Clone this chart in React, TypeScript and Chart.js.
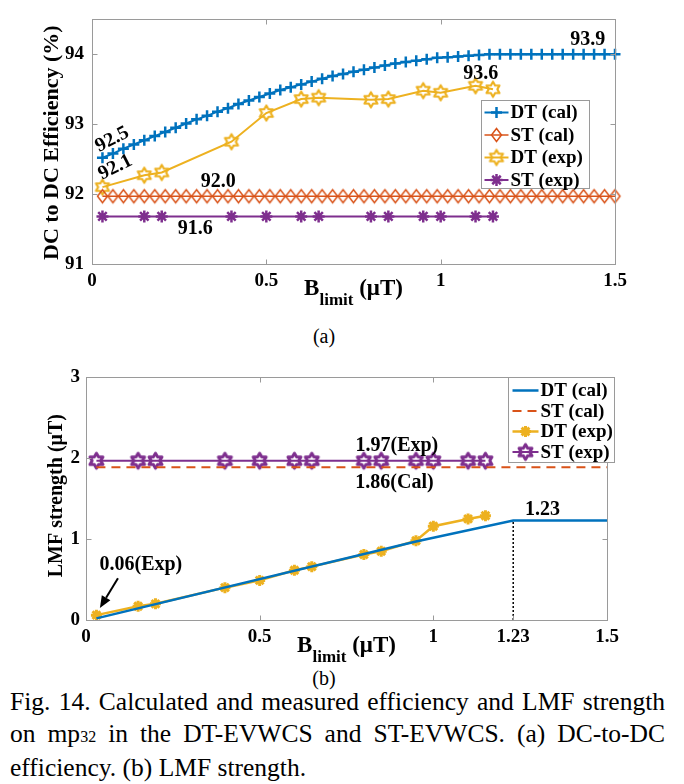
import React, { useEffect, useRef } from 'react';
import { Chart, registerables } from 'chart.js';

Chart.register(...registerables);

const FONT = '"Liberation Serif", "Times New Roman", serif';
const BLUE = '#0072BD';
const ORANGE = '#D95319';
const YELLOW = '#EDB120';
const PURPLE = '#7E2F8E';
const AXIS = '#9a9a9a';

// ---------------- (a) DC-to-DC efficiency ----------------
const calB = [0.03, 0.06, 0.09, 0.12, 0.15, 0.18, 0.21, 0.24, 0.27, 0.3, 0.33, 0.36, 0.39, 0.42, 0.45, 0.48, 0.51, 0.54, 0.57, 0.6, 0.63, 0.66, 0.69, 0.72, 0.75, 0.78, 0.81, 0.84, 0.87, 0.9, 0.93, 0.96, 0.99, 1.02, 1.05, 1.08, 1.11, 1.14, 1.17, 1.2, 1.23, 1.26, 1.29, 1.32, 1.35, 1.38, 1.41, 1.44, 1.47, 1.5];
const dtCalEff = [92.52, 92.58, 92.65, 92.71, 92.77, 92.83, 92.89, 92.95, 93.01, 93.07, 93.12, 93.18, 93.23, 93.29, 93.34, 93.39, 93.44, 93.49, 93.53, 93.57, 93.61, 93.65, 93.69, 93.72, 93.75, 93.78, 93.81, 93.84, 93.87, 93.89, 93.91, 93.93, 93.95, 93.96, 93.97, 93.98, 93.99, 94.0, 94.0, 94.0, 94.0, 94.0, 94.0, 94.0, 94.0, 94.0, 94.0, 94.0, 94.0, 94.0];
const stCalEff = [91.97, 91.97, 91.97, 91.97, 91.97, 91.97, 91.97, 91.97, 91.97, 91.97, 91.97, 91.97, 91.97, 91.97, 91.97, 91.97, 91.97, 91.97, 91.97, 91.97, 91.97, 91.97, 91.97, 91.97, 91.97, 91.97, 91.97, 91.97, 91.97, 91.97, 91.97, 91.97, 91.97, 91.97, 91.97, 91.97, 91.97, 91.97, 91.97, 91.97, 91.97, 91.97, 91.97, 91.97, 91.97, 91.97, 91.97, 91.97, 91.97, 91.97];
const expB = [0.03, 0.15, 0.2, 0.4, 0.5, 0.6, 0.65, 0.8, 0.85, 0.95, 1.0, 1.1, 1.15];
const dtExpEff = [92.1, 92.27, 92.31, 92.75, 93.16, 93.36, 93.38, 93.35, 93.36, 93.48, 93.45, 93.55, 93.5];
const stExpEff = [91.68, 91.68, 91.68, 91.68, 91.68, 91.68, 91.68, 91.68, 91.68, 91.68, 91.68, 91.68, 91.68];
const effTicks = [91, 92, 93, 94];
const bTicksA = [0, 0.5, 1, 1.5];

// ---------------- (b) LMF strength ----------------
const dtCalLmfB = [0.03, 0.95, 1.23, 1.5];
const dtCalLmf = [0.02, 0.97, 1.23, 1.23];
const stCalLmfB = [0.03, 1.5];
const stCalLmf = [1.89, 1.89];
const dtExpLmf = [0.06, 0.17, 0.2, 0.4, 0.49, 0.615, 0.66, 0.81, 0.85, 0.98, 1.16, 1.25, 1.29];
const stExpLmf = [1.97, 1.97, 1.97, 1.97, 1.97, 1.97, 1.97, 1.97, 1.97, 1.97, 1.97, 1.97, 1.97];
const limitB = [1.23, 1.23];
const limitLmf = [0, 1.23];
const lmfTicks = [0, 1, 2, 3];
const bTicksB = [0, 0.5, 1, 1.23, 1.5];

type Ann = { text: string; x: number; y: number; angle?: number };
const annsA: Ann[] = [
  { text: '92.5', x: 0.058, y: 92.78, angle: -27 },
  { text: '92.1', x: 0.067, y: 92.38, angle: -27 },
  { text: '92.0', x: 0.362, y: 92.17 },
  { text: '91.6', x: 0.296, y: 91.5 },
  { text: '93.9', x: 1.422, y: 94.21 },
  { text: '93.6', x: 1.115, y: 93.72 },
];
const annsB: Ann[] = [
  { text: '0.06(Exp)', x: 0.158, y: 0.683 },
  { text: '1.97(Exp)', x: 0.895, y: 2.152 },
  { text: '1.86(Cal)', x: 0.888, y: 1.691 },
  { text: '1.23', x: 1.314, y: 1.365 },
];
const arrowB = { x0: 0.092, y0: 0.517, x1: 0.04, y1: 0.148 };

const pts = (xs: number[], ys: number[]) => xs.map((x, i) => ({ x, y: ys[i] }));

function makeHexagram(color: string, r: number, lw: number) {
  const s = Math.ceil(2 * r + 2 * lw + 2);
  const c = document.createElement('canvas');
  c.width = s;
  c.height = s;
  const g = c.getContext('2d')!;
  const cx = s / 2, cy = s / 2, ri = r / Math.sqrt(3);
  g.beginPath();
  for (let i = 0; i < 12; i++) {
    const ang = -Math.PI / 2 + (i * Math.PI) / 6;
    const rr = i % 2 === 0 ? r : ri;
    const px = cx + rr * Math.cos(ang), py = cy + rr * Math.sin(ang);
    if (i === 0) g.moveTo(px, py);
    else g.lineTo(px, py);
  }
  g.closePath();
  g.strokeStyle = color;
  g.lineWidth = lw;
  g.lineJoin = 'round';
  g.stroke();
  return c;
}

function makeDiamond(color: string, w: number, h: number, lw: number) {
  const cw = Math.ceil(w + 2 * lw + 2), ch = Math.ceil(h + 2 * lw + 2);
  const c = document.createElement('canvas');
  c.width = cw;
  c.height = ch;
  const g = c.getContext('2d')!;
  const cx = cw / 2, cy = ch / 2;
  g.beginPath();
  g.moveTo(cx, cy - h / 2);
  g.lineTo(cx + w / 2, cy);
  g.lineTo(cx, cy + h / 2);
  g.lineTo(cx - w / 2, cy);
  g.closePath();
  g.strokeStyle = color;
  g.lineWidth = lw;
  g.stroke();
  return c;
}

type MarkFn = (ctx: CanvasRenderingContext2D, x: number, y: number) => void;
const plusMark = (c: string, r: number, lw: number): MarkFn => (ctx, x, y) => {
  ctx.strokeStyle = c;
  ctx.lineWidth = lw;
  ctx.setLineDash([]);
  ctx.beginPath();
  ctx.moveTo(x - r, y); ctx.lineTo(x + r, y);
  ctx.moveTo(x, y - r); ctx.lineTo(x, y + r);
  ctx.stroke();
};
const starMark = (c: string, r: number, lw: number): MarkFn => (ctx, x, y) => {
  ctx.strokeStyle = c;
  ctx.lineWidth = lw;
  ctx.setLineDash([]);
  ctx.beginPath();
  for (let k = 0; k < 4; k++) {
    const a = (k * Math.PI) / 4;
    ctx.moveTo(x - r * Math.cos(a), y - r * Math.sin(a));
    ctx.lineTo(x + r * Math.cos(a), y + r * Math.sin(a));
  }
  ctx.stroke();
};
const imgMark = (img: HTMLCanvasElement): MarkFn => (ctx, x, y) => {
  ctx.drawImage(img, x - img.width / 2, y - img.height / 2);
};

type LegendItem = { label: string; color: string; lw: number; dash?: number[]; mark?: MarkFn };
type Deco = {
  yTitle: string; yTitleX: number; yTitleSize: number; yTitleDy: number;
  xTitleDy: number; subDy: number;
  ticksX: number[]; ticksY: number[];
  anns: Ann[];
  arrow?: { x0: number; y0: number; x1: number; y1: number };
  legend: { dx: number; dy: number; w: number; h: number; row0: number; gap: number; l0: number; l1: number; tx: number; items: LegendItem[] };
};

const decoPlugin = (d: Deco) => ({
  id: 'deco',
  afterDraw(chart: any) {
    const { ctx, chartArea: a, scales } = chart;
    const xs = scales.x, ys = scales.y;
    ctx.save();
    // axes box + inward ticks
    ctx.strokeStyle = AXIS;
    ctx.lineWidth = 1;
    ctx.setLineDash([]);
    const L = Math.round(a.left) + 0.5, R = Math.round(a.right) + 0.5, T = Math.round(a.top) + 0.5, B = Math.round(a.bottom) + 0.5;
    ctx.strokeRect(L, T, R - L, B - T);
    ctx.beginPath();
    d.ticksX.forEach((v) => {
      const px = Math.round(xs.getPixelForValue(v)) + 0.5;
      ctx.moveTo(px, B); ctx.lineTo(px, B - 5);
      ctx.moveTo(px, T); ctx.lineTo(px, T + 5);
    });
    d.ticksY.forEach((v) => {
      const py = Math.round(ys.getPixelForValue(v)) + 0.5;
      ctx.moveTo(L, py); ctx.lineTo(L + 5, py);
      ctx.moveTo(R, py); ctx.lineTo(R - 5, py);
    });
    ctx.stroke();

    ctx.fillStyle = '#000';
    // y title
    ctx.save();
    ctx.translate(d.yTitleX, (a.top + a.bottom) / 2 + d.yTitleDy);
    ctx.rotate(-Math.PI / 2);
    ctx.font = `bold ${d.yTitleSize}px ${FONT}`;
    ctx.textAlign = 'center';
    ctx.textBaseline = 'middle';
    ctx.fillText(d.yTitle, 0, 0);
    ctx.restore();

    // x title  B_limit (μT)
    const big = `bold 23px ${FONT}`, small = `bold 17px ${FONT}`;
    ctx.font = big;
    const wB = ctx.measureText('B').width;
    const wU = ctx.measureText(' (μT)').width;
    ctx.font = small;
    const wL = ctx.measureText('limit').width;
    let x = (a.left + a.right) / 2 - (wB + wL + wU) / 2;
    const base = a.bottom + d.xTitleDy;
    ctx.textAlign = 'left';
    ctx.textBaseline = 'alphabetic';
    ctx.font = big;
    ctx.fillText('B', x, base);
    x += wB;
    ctx.font = small;
    ctx.fillText('limit', x, base + d.subDy);
    x += wL;
    ctx.font = big;
    ctx.fillText(' (μT)', x, base);

    // annotations
    ctx.font = `bold 20px ${FONT}`;
    ctx.textAlign = 'center';
    ctx.textBaseline = 'middle';
    d.anns.forEach((n) => {
      const px = xs.getPixelForValue(n.x), py = ys.getPixelForValue(n.y);
      ctx.save();
      ctx.translate(px, py);
      if (n.angle) ctx.rotate((n.angle * Math.PI) / 180);
      ctx.fillText(n.text, 0, 0);
      ctx.restore();
    });

    if (d.arrow) {
      const x0 = xs.getPixelForValue(d.arrow.x0), y0 = ys.getPixelForValue(d.arrow.y0);
      const x1 = xs.getPixelForValue(d.arrow.x1), y1 = ys.getPixelForValue(d.arrow.y1);
      const ang = Math.atan2(y1 - y0, x1 - x0);
      const hl = 12, hw = 5;
      const bx = x1 - hl * Math.cos(ang), by = y1 - hl * Math.sin(ang);
      ctx.strokeStyle = '#000';
      ctx.lineWidth = 2;
      ctx.beginPath();
      ctx.moveTo(x0, y0); ctx.lineTo(bx, by);
      ctx.stroke();
      ctx.beginPath();
      ctx.moveTo(x1, y1);
      ctx.lineTo(bx + hw * Math.sin(ang), by - hw * Math.cos(ang));
      ctx.lineTo(bx - hw * Math.sin(ang), by + hw * Math.cos(ang));
      ctx.closePath();
      ctx.fillStyle = '#000';
      ctx.fill();
    }

    // legend
    const lg = d.legend;
    const bl = Math.round(a.right + lg.dx) + 0.5, bt = Math.round(a.top + lg.dy) + 0.5;
    ctx.fillStyle = '#fff';
    ctx.fillRect(bl, bt, lg.w, lg.h);
    ctx.strokeStyle = AXIS;
    ctx.lineWidth = 1;
    ctx.setLineDash([]);
    ctx.strokeRect(bl, bt, lg.w, lg.h);
    ctx.font = `bold 19px ${FONT}`;
    ctx.textAlign = 'left';
    ctx.textBaseline = 'middle';
    lg.items.forEach((it, i) => {
      const ry = bt + lg.row0 + i * lg.gap;
      ctx.strokeStyle = it.color;
      ctx.lineWidth = it.lw;
      ctx.setLineDash(it.dash || []);
      ctx.beginPath();
      ctx.moveTo(bl + lg.l0, ry); ctx.lineTo(bl + lg.l1, ry);
      ctx.stroke();
      ctx.setLineDash([]);
      if (it.mark) it.mark(ctx, bl + (lg.l0 + lg.l1) / 2, ry);
      ctx.fillStyle = '#000';
      ctx.fillText(it.label, bl + lg.tx, ry + 1);
    });
    ctx.restore();
  },
});

const tickFont = { family: FONT, size: 19, weight: 'bold' as const };

function scalesFor(W: number, H: number, box: { l: number; b: number }, xMax: number, yMin: number, yMax: number, xt: number[], yt: number[], yPad: number) {
  return {
    x: {
      type: 'linear', min: 0, max: xMax,
      afterBuildTicks: (s: any) => { s.ticks = xt.map((v) => ({ value: v })); },
      afterFit: (s: any) => { s.height = H - box.b; },
      ticks: { font: tickFont, color: '#000', padding: 6, maxRotation: 0, autoSkip: false, callback: (v: any) => String(v) },
      grid: { display: false, drawTicks: false },
      border: { display: false },
    },
    y: {
      type: 'linear', min: yMin, max: yMax,
      afterBuildTicks: (s: any) => { s.ticks = yt.map((v) => ({ value: v })); },
      afterFit: (s: any) => { s.width = box.l; },
      ticks: { font: tickFont, color: '#000', padding: yPad, autoSkip: false, callback: (v: any) => String(v) },
      grid: { display: false, drawTicks: false },
      border: { display: false },
    },
  };
}

export default function App() {
  const refA = useRef<HTMLCanvasElement>(null);
  const refB = useRef<HTMLCanvasElement>(null);

  useEffect(() => {
    const hexY = makeHexagram(YELLOW, 7.5, 2.2);
    const hexP = makeHexagram(PURPLE, 7.5, 3);
    const dia = makeDiamond(ORANGE, 10, 13, 1.5);

    const WA = 684, HA = 320;
    const chartA = new Chart(refA.current!, {
      type: 'scatter',
      data: {
        datasets: [
          { label: 'ST (cal)', data: pts(calB, stCalEff), showLine: true, borderColor: ORANGE, borderWidth: 1.5, pointStyle: dia as any, pointRadius: 6, clip: false } as any,
          { label: 'ST (exp)', data: pts(expB, stExpEff), showLine: true, borderColor: PURPLE, borderWidth: 2, pointStyle: 'star', pointRadius: 6, pointBorderWidth: 2.5, pointBorderColor: PURPLE, clip: false },
          { label: 'DT (exp)', data: pts(expB, dtExpEff), showLine: true, borderColor: YELLOW, borderWidth: 2, pointStyle: hexY as any, pointRadius: 7, clip: false } as any,
          { label: 'DT (cal)', data: pts(calB, dtCalEff), showLine: true, borderColor: BLUE, borderWidth: 2, pointStyle: 'cross', pointRadius: 5.5, pointBorderWidth: 2.5, pointBorderColor: BLUE, clip: false },
        ],
      },
      options: {
        animation: false,
        responsive: false,
        events: [],
        layout: { padding: { left: 0, top: 10, right: WA - 615, bottom: 0 } },
        plugins: { legend: { display: false }, tooltip: { enabled: false } },
        scales: scalesFor(WA, HA, { l: 92, b: 264 }, 1.5, 91, 94.5, bTicksA, effTicks, 8) as any,
      },
      plugins: [
        decoPlugin({
          yTitle: 'DC to DC Efficiency (%)', yTitleX: 52, yTitleSize: 22, yTitleDy: 1,
          xTitleDy: 31, subDy: 10,
          ticksX: bTicksA, ticksY: effTicks,
          anns: annsA,
          legend: {
            dx: -134, dy: 81, w: 108, h: 88, row0: 12, gap: 22.5, l0: 3, l1: 27, tx: 29,
            items: [
              { label: 'DT (cal)', color: BLUE, lw: 2, mark: plusMark(BLUE, 5.5, 2.5) },
              { label: 'ST (cal)', color: ORANGE, lw: 1.5, mark: imgMark(dia) },
              { label: 'DT (exp)', color: YELLOW, lw: 2, mark: imgMark(hexY) },
              { label: 'ST (exp)', color: PURPLE, lw: 2, mark: starMark(PURPLE, 6, 2.5) },
            ],
          },
        }),
      ],
    });

    const WB = 684, HB = 314;
    const chartB = new Chart(refB.current!, {
      type: 'scatter',
      data: {
        datasets: [
          { label: 'limit', data: pts(limitB, limitLmf), showLine: true, borderColor: '#000', borderWidth: 1.5, borderDash: [2, 2], pointRadius: 0 },
          { label: 'ST (cal)', data: pts(stCalLmfB, stCalLmf), showLine: true, borderColor: ORANGE, borderWidth: 2, borderDash: [9, 6], pointRadius: 0 },
          { label: 'ST (exp)', data: pts(expB, stExpLmf), showLine: true, borderColor: PURPLE, borderWidth: 2, pointStyle: hexP as any, pointRadius: 7, clip: false } as any,
          { label: 'DT (cal)', data: pts(dtCalLmfB, dtCalLmf), showLine: true, borderColor: BLUE, borderWidth: 2.5, pointRadius: 0 },
          { label: 'DT (exp)', data: pts(expB, dtExpLmf), showLine: true, borderColor: YELLOW, borderWidth: 2.5, pointStyle: 'star', pointRadius: 5.5, pointBorderWidth: 3, pointBorderColor: YELLOW, clip: false },
        ],
      },
      options: {
        animation: false,
        responsive: false,
        events: [],
        layout: { padding: { left: 0, top: 16, right: WB - 607, bottom: 0 } },
        plugins: { legend: { display: false }, tooltip: { enabled: false } },
        scales: scalesFor(WB, HB, { l: 86, b: 260 }, 1.5, 0, 3, bTicksB, lmfTicks, 6) as any,
      },
      plugins: [
        decoPlugin({
          yTitle: 'LMF strength (μT)', yTitleX: 57, yTitleSize: 20, yTitleDy: -3,
          xTitleDy: 32, subDy: 10,
          ticksX: bTicksB, ticksY: lmfTicks,
          anns: annsB,
          arrow: arrowB,
          legend: {
            dx: -99, dy: 0, w: 106, h: 85, row0: 13, gap: 20.5, l0: 4, l1: 30, tx: 32,
            items: [
              { label: 'DT (cal)', color: BLUE, lw: 2.5 },
              { label: 'ST (cal)', color: ORANGE, lw: 2, dash: [9, 6] },
              { label: 'DT (exp)', color: YELLOW, lw: 2.5, mark: starMark(YELLOW, 5.5, 3) },
              { label: 'ST (exp)', color: PURPLE, lw: 2, mark: imgMark(hexP) },
            ],
          },
        }),
      ],
    });

    return () => {
      chartA.destroy();
      chartB.destroy();
    };
  }, []);

  return (
    <div style={{ position: 'fixed', left: 0, top: 0, width: 684, height: 784, background: '#fff', fontFamily: FONT, color: '#000', overflow: 'hidden' }}>
      <canvas ref={refA} width={684} height={320} style={{ position: 'absolute', left: 0, top: 0 }} />
      <div style={{ position: 'absolute', left: 284, width: 80, top: 324, textAlign: 'center', fontSize: 20, lineHeight: '24px' }}>(a)</div>
      <div style={{ position: 'absolute', left: 284, width: 80, top: 666, textAlign: 'center', fontSize: 20, lineHeight: '24px' }}>(b)</div>
      <canvas ref={refB} width={684} height={314} style={{ position: 'absolute', left: 0, top: 360 }} />
      <div style={{ position: 'absolute', left: 10, width: 655, top: 686, fontSize: 25.5, lineHeight: '31.5px' }}>
        <div style={{ textAlign: 'justify', textAlignLast: 'justify' as any }}>Fig. 14. Calculated and measured efficiency and LMF strength</div>
        <div style={{ textAlign: 'justify', textAlignLast: 'justify' as any }}>on mp<span style={{ fontSize: 16 }}>32</span> in the DT-EVWCS and ST-EVWCS. (a) DC-to-DC</div>
        <div style={{ textAlign: 'left' }}>efficiency. (b) LMF strength.</div>
      </div>
    </div>
  );
}
